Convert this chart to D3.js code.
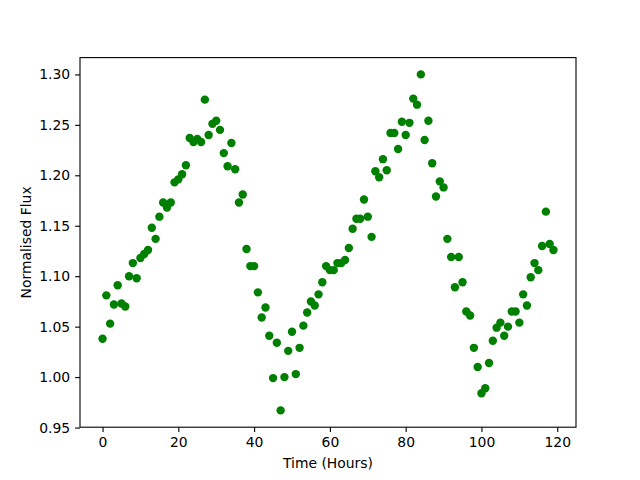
<!DOCTYPE html>
<html>
<head>
<meta charset="utf-8">
<script src="https://cdn.jsdelivr.net/npm/d3@7"></script>
<style>
  body { margin: 0; background: #fff; }
  text { font-family: "DejaVu Sans", sans-serif; }
</style>
</head>
<body>
<div id="chart"></div>
<script>
// hourly normalised flux readings, hour 0..119
const hours = d3.range(0, 120);
const flux = [
  1.038, 1.081, 1.053, 1.072, 1.091, 1.073, 1.070, 1.100, 1.113, 1.098,
  1.118, 1.122, 1.126, 1.148, 1.137, 1.159, 1.173, 1.168, 1.173, 1.193,
  1.196, 1.201, 1.210, 1.237, 1.233, 1.236, 1.233, 1.275, 1.240, 1.251,
  1.254, 1.245, 1.222, 1.209, 1.232, 1.206, 1.173, 1.181, 1.127, 1.110,
  1.110, 1.084, 1.059, 1.069, 1.041, 0.999, 1.034, 0.967, 1.000, 1.026,
  1.045, 1.003, 1.029, 1.051, 1.064, 1.075, 1.071, 1.082, 1.094, 1.110,
  1.106, 1.106, 1.113, 1.113, 1.116, 1.128, 1.147, 1.157, 1.157, 1.176,
  1.159, 1.139, 1.204, 1.198, 1.216, 1.205, 1.242, 1.242, 1.226, 1.253,
  1.240, 1.252, 1.276, 1.270, 1.300, 1.235, 1.254, 1.212, 1.179, 1.194,
  1.188, 1.137, 1.119, 1.089, 1.119, 1.094, 1.065, 1.061, 1.029, 1.010,
  0.984, 0.989, 1.014, 1.036, 1.049, 1.054, 1.041, 1.050, 1.065, 1.065,
  1.054, 1.082, 1.071, 1.099, 1.113, 1.106, 1.130, 1.164, 1.132, 1.126
];
const xTicks = [0, 20, 40, 60, 80, 100, 120];
const yTicks = [0.95, 1.00, 1.05, 1.10, 1.15, 1.20, 1.25, 1.30];

const width = 640, height = 480;
const margin = {top: 57.6, right: 64, bottom: 52.8, left: 80};

const svg = d3.select('#chart')
  .append('svg')
  .attr('width', width)
  .attr('height', height);

// matplotlib style 5% padding on the data range
const xPad = (d3.max(hours) - d3.min(hours)) * 0.05;
const yPad = (d3.max(flux) - d3.min(flux)) * 0.05;

const x = d3.scaleLinear()
  .domain([d3.min(hours) - xPad, d3.max(hours) + xPad])
  .range([margin.left, width - margin.right]);

const y = d3.scaleLinear()
  .domain([d3.min(flux) - yPad, d3.max(flux) + yPad])
  .range([height - margin.bottom, margin.top]);

svg.append('g')
  .selectAll('circle')
  .data(hours)
  .join('circle')
  .attr('cx', (d) => x(d))
  .attr('cy', (d, i) => y(flux[i]))
  .attr('r', 4.2)
  .attr('fill', '#008000');

const xAxis = svg.append('g')
  .attr('transform', `translate(0,${height - margin.bottom})`)
  .call(d3.axisBottom(x).tickValues(xTicks).tickSize(4.9).tickPadding(4.9).tickFormat(d3.format('d')));

const yAxis = svg.append('g')
  .attr('transform', `translate(${margin.left},0)`)
  .call(d3.axisLeft(y).tickValues(yTicks).tickSize(4.9).tickPadding(4.9).tickFormat(d3.format('.2f')));

[xAxis, yAxis].forEach((g) => {
  g.select('.domain').remove();
  g.selectAll('.tick line').attr('stroke', '#000').attr('stroke-width', 1.1);
  g.selectAll('.tick text').attr('font-size', 13.9).attr('fill', '#000')
    .style('font-family', '"DejaVu Sans", sans-serif');
});

// frame
svg.append('rect')
  .attr('x', margin.left)
  .attr('y', margin.top)
  .attr('width', width - margin.left - margin.right)
  .attr('height', height - margin.top - margin.bottom)
  .attr('fill', 'none')
  .attr('stroke', '#000')
  .attr('stroke-width', 1.1);

svg.append('text')
  .attr('x', margin.left + (width - margin.left - margin.right) / 2)
  .attr('y', 468)
  .attr('text-anchor', 'middle')
  .attr('font-size', 13.9)
  .text('Time (Hours)');

svg.append('text')
  .attr('transform', `translate(31,${margin.top + (height - margin.top - margin.bottom) / 2}) rotate(-90)`)
  .attr('text-anchor', 'middle')
  .attr('font-size', 13.9)
  .text('Normalised Flux');
</script>
</body>
</html>
